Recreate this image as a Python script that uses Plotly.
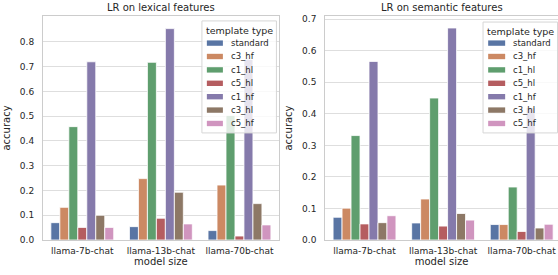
import plotly.graph_objects as go

models = ["llama-7b-chat", "llama-13b-chat", "llama-70b-chat"]
templates = ["standard", "c3_hf", "c1_hl", "c5_hl", "c1_hf", "c3_hl", "c5_hf"]
colors = ["#5975a4", "#cc8963", "#5f9e6e", "#b55d60", "#857aab", "#8d7866", "#d095bf"]

# LR on lexical features (accuracy per template, ordered by model)
lex_standard = [0.070, 0.054, 0.038]
lex_c3_hf = [0.132, 0.248, 0.222]
lex_c1_hl = [0.458, 0.718, 0.503]
lex_c5_hl = [0.051, 0.088, 0.016]
lex_c1_hf = [0.720, 0.854, 0.730]
lex_c3_hl = [0.100, 0.193, 0.147]
lex_c5_hf = [0.051, 0.065, 0.061]

# LR on semantic features
sem_standard = [0.072, 0.054, 0.049]
sem_c3_hf = [0.101, 0.130, 0.049]
sem_c1_hl = [0.331, 0.450, 0.168]
sem_c5_hl = [0.051, 0.044, 0.027]
sem_c1_hf = [0.566, 0.672, 0.420]
sem_c3_hl = [0.055, 0.084, 0.038]
sem_c5_hf = [0.077, 0.063, 0.050]

lex_ticks = [0.0, 0.1, 0.2, 0.3, 0.4, 0.5, 0.6, 0.7, 0.8]
sem_ticks = [0.0, 0.1, 0.2, 0.3, 0.4, 0.5, 0.6, 0.7]

lexical = [lex_standard, lex_c3_hf, lex_c1_hl, lex_c5_hl, lex_c1_hf, lex_c3_hl, lex_c5_hf]
semantic = [sem_standard, sem_c3_hf, sem_c1_hl, sem_c5_hl, sem_c1_hf, sem_c3_hl, sem_c5_hf]

FONT = "DejaVu Sans"
TXT = "#262626"
GRID = "#dedede"
SPINE = "#cccccc"

fig = go.Figure()
for name, col, vals in zip(templates, colors, lexical):
    fig.add_trace(go.Bar(x=models, y=vals, name=name, showlegend=False,
                         marker=dict(color=col, line=dict(color="white", width=0.8)),
                         xaxis="x", yaxis="y"))
for name, col, vals in zip(templates, colors, semantic):
    fig.add_trace(go.Bar(x=models, y=vals, name=name, showlegend=False,
                         marker=dict(color=col, line=dict(color="white", width=0.8)),
                         xaxis="x2", yaxis="y2"))

axis_common = dict(showgrid=True, gridcolor=GRID, gridwidth=1, showline=True, linecolor=SPINE, linewidth=1,
                   ticks="", tickfont=dict(family=FONT, size=9, color=TXT), zeroline=False, automargin=False)

fig.update_layout(
    width=558, height=275,
    margin=dict(l=43, r=0, t=16, b=35),
    paper_bgcolor="white", plot_bgcolor="white",
    barmode="group", bargap=0.2, bargroupgap=0,
    font=dict(family=FONT, color=TXT),
    xaxis=dict(domain=[0, 0.4578], range=[-0.5, 2.5], mirror=True, anchor="y", ticklabelstandoff=2,
               title=dict(text="model size", font=dict(family=FONT, size=10, color=TXT), standoff=3),
               **{**axis_common, "showgrid": False}),
    yaxis=dict(range=[0, 0.905], tickvals=lex_ticks, tickformat=".1f", mirror=True, anchor="x",
               ticklabelstandoff=6,
               title=dict(text="accuracy", font=dict(family=FONT, size=10, color=TXT), standoff=7),
               **axis_common),
    xaxis2=dict(domain=[0.548, 1.0], range=[-0.5, 2.462], mirror=True, anchor="y2", ticklabelstandoff=2,
                title=dict(text="model size", font=dict(family=FONT, size=10, color=TXT), standoff=3),
                **{**axis_common, "showgrid": False}),
    yaxis2=dict(range=[0, 0.71], tickvals=sem_ticks, tickformat=".1f", anchor="x2",
                ticklabelstandoff=6,
                title=dict(text="accuracy", font=dict(family=FONT, size=10, color=TXT), standoff=7),
                **axis_common),
)

annotations = [
    dict(text="LR on lexical features", xref="x domain", yref="paper", x=0.5, y=1, yanchor="bottom",
         yshift=1, showarrow=False, font=dict(family=FONT, size=10, color=TXT)),
    dict(text="LR on semantic features", xref="x2 domain", yref="paper", x=0.5, y=1, yanchor="bottom",
         yshift=1, showarrow=False, font=dict(family=FONT, size=10, color=TXT)),
]
shapes = []

# Legend boxes (one per panel), laid out in axis-domain fractions
legend_specs = [
    # axis, box x0, box x1, box top, box bottom, swatch x0, swatch x1, text x, title x
    ("x", "y", 0.674, 0.990, 0.978, 0.478, 0.695, 0.763, 0.790, 0.832),
    ("x2", "y2", 0.678, 0.998, 0.973, 0.478, 0.700, 0.773, 0.800, 0.840),
]
row_top = 0.879
row_step = 0.0598
for xa, ya, bx0, bx1, btop, bbot, sx0, sx1, tx, ttx in legend_specs:
    xr, yr = xa + " domain", ya + " domain"
    shapes.append(dict(type="rect", xref=xr, yref=yr, x0=bx0, x1=bx1, y0=bbot, y1=btop,
                       fillcolor="rgba(255,255,255,0.8)", line=dict(color="#d6d6d6", width=1), layer="above"))
    annotations.append(dict(text="template type", xref=xr, yref=yr, x=ttx, y=btop - 0.042,
                            xanchor="center", yanchor="middle", showarrow=False,
                            font=dict(family=FONT, size=9.5, color=TXT)))
    for i, (name, col) in enumerate(zip(templates, colors)):
        yc = row_top - i * row_step
        shapes.append(dict(type="rect", xref=xr, yref=yr, x0=sx0, x1=sx1, y0=yc - 0.012, y1=yc + 0.012,
                           fillcolor=col, line=dict(width=0), layer="above"))
        annotations.append(dict(text=name, xref=xr, yref=yr, x=tx, y=yc, xanchor="left", yanchor="middle",
                                showarrow=False, font=dict(family=FONT, size=8.5, color=TXT)))

fig.update_layout(annotations=annotations, shapes=shapes)

fig.write_html("out.html", config={"displayModeBar": False},
               post_script="document.body.style.margin='0';document.body.style.overflow='hidden';")
